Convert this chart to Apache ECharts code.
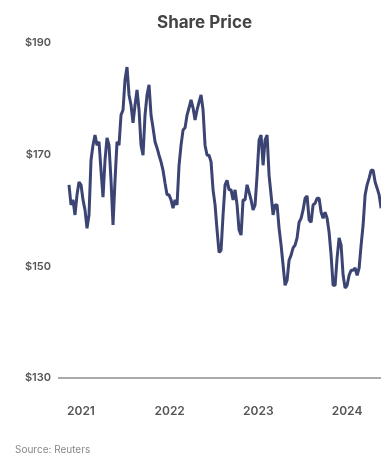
<!DOCTYPE html>
<html>
<head>
<meta charset="utf-8">
<script src="https://cdn.jsdelivr.net/npm/echarts@6/dist/echarts.min.js"></script>
<style>
  html, body { margin: 0; padding: 0; background: #fff; }
  #chart { width: 381px; height: 458px; }
</style>
</head>
<body>
<div id="chart"></div>
<script>
// share price, one reading roughly every 8 days starting mid Nov 2020
const startYear = 2020.865
const stepYears = 0.02256
const prices = [
  164.6, 161.0, 161.9, 159.2, 162.8, 165.1, 164.6, 161.9, 160.1, 156.8,
  159.2, 169.0, 171.7, 173.5, 171.7, 172.3, 167.2, 162.4, 169.0, 173.0,
  171.7, 165.4, 157.4, 165.4, 172.3, 171.7, 177.1, 178.0, 183.4, 185.7,
  180.7, 178.9, 175.7, 178.9, 181.6, 178.0, 171.7, 169.9, 177.1, 180.7,
  182.5, 177.1, 174.8, 172.3, 171.2, 169.9, 168.7, 167.2, 164.9, 162.8,
  162.8, 161.9, 160.4, 161.9, 161.0, 168.1, 171.7, 174.4, 174.8, 177.1,
  178.4, 179.8, 178.4, 176.2, 178.0, 179.4, 180.7, 178.0, 171.7, 169.9,
  169.9, 168.7, 163.7, 161.0, 156.5, 152.5, 152.9, 159.2, 164.6, 165.4,
  163.7, 163.7, 161.9, 163.7, 161.0, 156.5, 155.6, 161.9, 161.9, 164.6,
  163.3, 161.9, 160.1, 161.0, 166.3, 172.6, 173.5, 168.1, 172.6, 173.5,
  166.3, 162.8, 159.2, 161.0, 161.0, 156.8, 153.8, 150.2, 146.6, 147.5,
  151.1, 152.0, 153.3, 153.8, 155.1, 157.9, 158.6, 160.1, 162.2, 162.6,
  158.3, 157.9, 161.0, 161.3, 162.2, 162.2, 159.7, 158.6, 159.7, 158.6,
  156.1, 152.0, 146.6, 146.6, 151.5, 155.1, 153.8, 148.4, 146.1, 146.6,
  148.4, 149.3, 149.3, 149.7, 148.4, 149.7, 153.8, 157.4, 162.8, 164.6,
  165.8, 167.2, 167.2, 165.1, 164.0, 162.8, 160.4
]
const yearLabels = [2021, 2022, 2023, 2024]
const priceTicks = [130, 150, 170, 190]

const seriesData = prices.map((p, i) => [startYear + i * stepYears, p])

const chart = echarts.init(document.getElementById('chart'))

const option = {
  animation: false,
  title: {
    text: 'Share Price',
    left: 152,
    top: 9,
    textStyle: {
      fontFamily: 'Inter',
      fontSize: 17,
      fontWeight: 'bold',
      color: '#444',
    },
  },
  grid: {
    left: 58,
    right: 0,
    top: 43,
    bottom: 80,
  },
  xAxis: {
    type: 'value',
    min: 2020.741,
    max: 2024.383,
    axisLine: { show: false },
    axisTick: { show: false },
    splitLine: { show: false },
    axisLabel: {
      customValues: yearLabels,
      margin: 27,
      fontFamily: 'Inter',
      fontSize: 12,
      fontWeight: 600,
      color: '#555',
      formatter: (v) => String(v),
    },
  },
  yAxis: {
    type: 'value',
    min: priceTicks[0],
    max: priceTicks[priceTicks.length - 1],
    interval: 20,
    axisLine: { show: false },
    axisTick: { show: false },
    splitLine: { show: false },
    axisLabel: {
      margin: 7,
      fontFamily: 'Inter',
      fontSize: 11,
      fontWeight: 600,
      color: '#555',
      formatter: (v) => '$' + v,
    },
  },
  series: [
    {
      type: 'line',
      data: seriesData,
      showSymbol: false,
      lineStyle: { width: 3, color: '#3b4473' },
      markLine: {
        silent: true,
        symbol: 'none',
        label: { show: false },
        lineStyle: { type: 'solid', color: '#aaa', width: 2 },
        data: [{ yAxis: priceTicks[0] }],
      },
    },
  ],
  graphic: [
    {
      type: 'text',
      left: 15,
      top: 445,
      style: {
        text: 'Source: Reuters',
        fontFamily: 'Inter',
        fontSize: 10,
        fill: '#888',
      },
    },
  ],
}

chart.setOption(option)
</script>
</body>
</html>
